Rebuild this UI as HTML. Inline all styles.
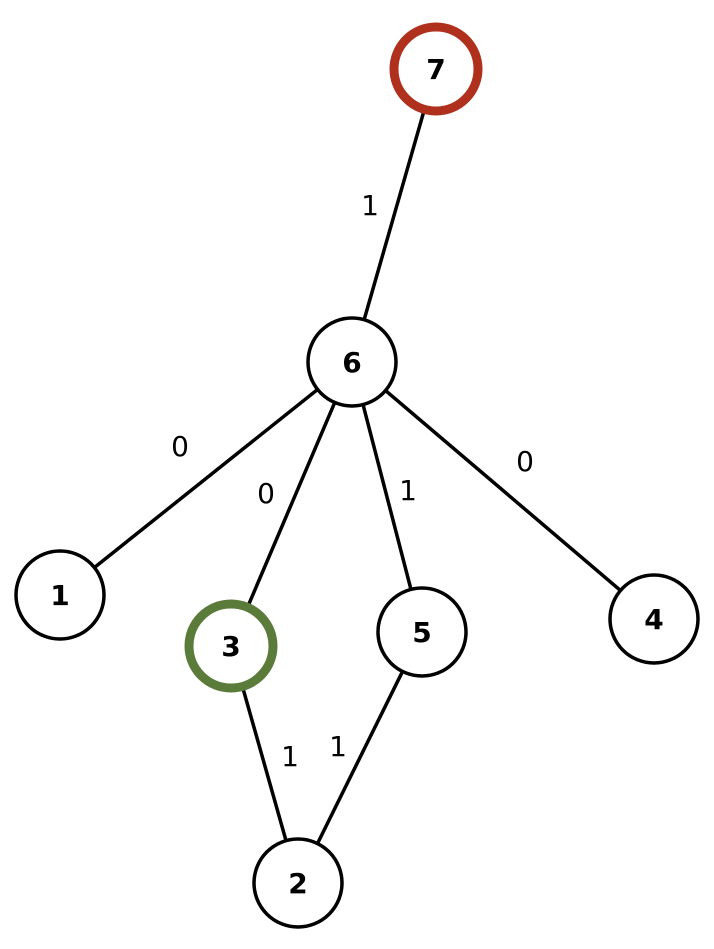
<!DOCTYPE html>
<html><head><style>html,body{margin:0;padding:0;background:#fff}</style></head>
<body>
<svg width="714" height="944" viewBox="0 0 714 944" xmlns="http://www.w3.org/2000/svg">
<g stroke="#000" stroke-width="3.5" fill="none">
<line x1="436" y1="69" x2="352" y2="362"/>
<line x1="352" y1="362" x2="60" y2="595"/>
<line x1="352" y1="362" x2="231" y2="646"/>
<line x1="352" y1="362" x2="422" y2="632"/>
<line x1="352" y1="362" x2="654" y2="619"/>
<line x1="231" y1="646" x2="298" y2="883"/>
<line x1="422" y1="632" x2="298" y2="883"/>
</g>
<g font-family="DejaVu Sans, Liberation Sans, sans-serif" font-size="28" fill="#000" text-anchor="middle">
<text x="370" y="215">1</text>
<text x="180" y="456">0</text>
<text x="266" y="503">0</text>
<text x="408" y="500">1</text>
<text x="525" y="471">0</text>
<text x="290" y="766">1</text>
<text x="338" y="756">1</text>
</g>
<g fill="#fff" stroke="#000" stroke-width="3.5">
<circle cx="352" cy="362" r="44"/>
<circle cx="60" cy="595" r="44"/>
<circle cx="422" cy="632" r="44"/>
<circle cx="654" cy="619" r="44"/>
<circle cx="298" cy="883" r="44"/>
<circle cx="436" cy="69" r="42" stroke="#b0301e" stroke-width="9"/>
<circle cx="231" cy="646" r="42" stroke="#5b7b3a" stroke-width="9"/>
</g>
<g font-family="DejaVu Sans, Liberation Sans, sans-serif" font-weight="bold" font-size="28" fill="#000" text-anchor="middle">
<text x="436" y="79">7</text>
<text x="352" y="372">6</text>
<text x="60" y="605">1</text>
<text x="231" y="656">3</text>
<text x="422" y="642">5</text>
<text x="654" y="629">4</text>
<text x="298" y="893">2</text>
</g>
</svg>
</body></html>
